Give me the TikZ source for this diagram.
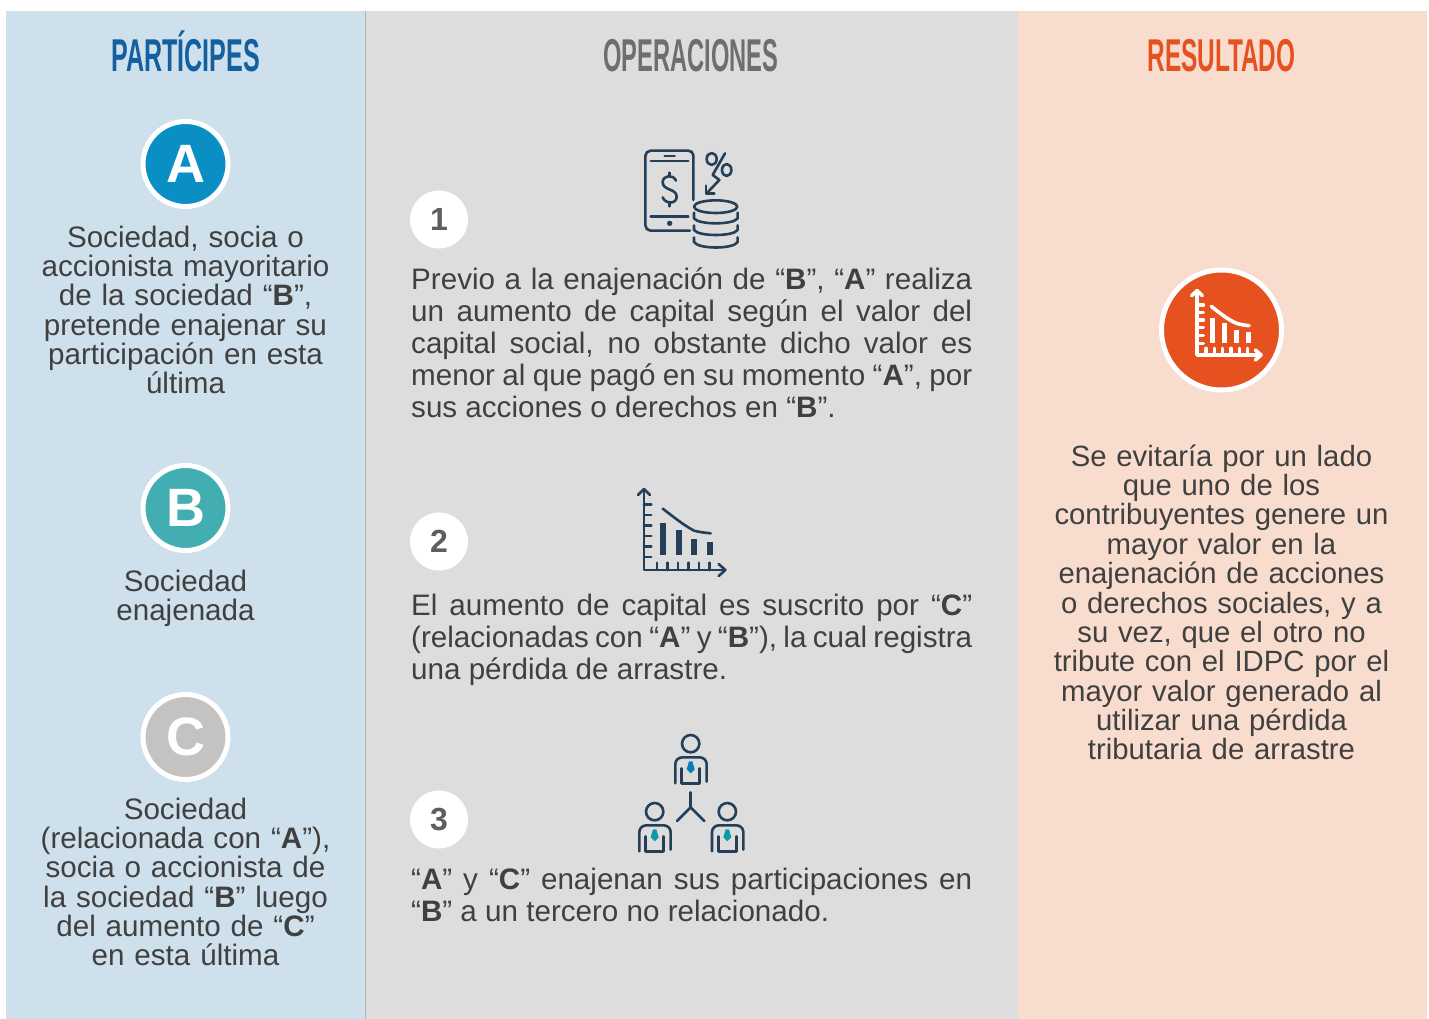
\documentclass[tikz,border=0pt]{standalone}
\usepackage{fontspec}
\setmainfont{Liberation Sans}
\newfontfamily\heada[FakeStretch=0.545]{Liberation Sans}
\newfontfamily\headb[FakeStretch=0.515]{Liberation Sans}
\newfontfamily\headc[FakeStretch=0.53]{Liberation Sans}
\definecolor{bgblue}{HTML}{CDE0EC}
\definecolor{bggrey}{HTML}{DDDDDD}
\definecolor{bgpeach}{HTML}{F8DCCD}
\definecolor{titleblue}{HTML}{135F9F}
\definecolor{titlegrey}{HTML}{6E6E6E}
\definecolor{accent}{HTML}{E5521F}
\definecolor{circA}{HTML}{0A8FC4}
\definecolor{circB}{HTML}{43AEB2}
\definecolor{circC}{HTML}{C4C3C1}
\definecolor{txt}{HTML}{404040}
\definecolor{icon}{HTML}{243F58}
\definecolor{tieblue}{HTML}{0A7DB8}
\definecolor{tieteal}{HTML}{0B9AA8}
\tikzset{
  headtext/.style={anchor=base,inner sep=0pt},
  sidetext/.style={font=\fontsize{29.6}{29.35}\selectfont,text=txt,align=center,inner sep=0pt,anchor=north,text width=345pt},
  midtext/.style={font=\fontsize{29.6}{32}\selectfont,text=txt,align=justify,inner sep=0pt,anchor=north west,text width=561pt},
  letterdisc/.style={circle,draw=white,line width=5pt,minimum size=85pt,inner sep=0pt,text=white,font=\bfseries\fontsize{54}{54}\selectfont},
  numdisc/.style={circle,fill=white,minimum size=58pt,inner sep=0pt,text=titlegrey!85!black,font=\bfseries\fontsize{32}{32}\selectfont},
  iconline/.style={draw=icon,line width=2.6pt,line cap=round,line join=round},
  whiteline/.style={draw=white,line width=3.6pt,line cap=round,line join=round},
}
\begin{document}
\begin{tikzpicture}[x=1pt,y=-1pt]
\useasboundingbox (0,0) rectangle (1429,1019);
\fill[white] (0,0) rectangle (1429,1019);
\fill[bgblue] (6,11) rectangle (365,1019);
\fill[bggrey] (365,11) rectangle (1018,1019);
\fill[bgpeach] (1018,11) rectangle (1427,1019);
\draw[line width=0.8pt,color=black!30] (365.5,11) -- (365.5,1019);

\node[headtext,text=titleblue,font=\heada\bfseries\fontsize{46}{48}\selectfont] (h1) at (185.5,71.5) {PARTÍCIPES};
\node[headtext,text=titlegrey,font=\headb\bfseries\fontsize{46}{48}\selectfont] (h2) at (691,71.5) {OPERACIONES};
\node[headtext,text=accent,font=\headc\bfseries\fontsize{46}{48}\selectfont] (h3) at (1221.5,71.5) {RESULTADO};

% left column
\node[letterdisc,fill=circA] (a) at (185.5,164) {A};
\node[sidetext] (ta) at (185.5,225.5) {Sociedad, socia o\\accionista mayoritario\\de la sociedad “\textbf{B}”,\\pretende enajenar su\\participación en esta\\última};
\node[letterdisc,fill=circB] (b) at (185.5,508) {B};
\node[sidetext] (tb) at (185.5,569.5) {Sociedad\\enajenada};
\node[letterdisc,fill=circC] (c) at (185.5,737) {C};
\node[sidetext] (tc) at (185.5,797.5) {Sociedad\\(relacionada con “\textbf{A}”),\\socia o accionista de\\la sociedad “\textbf{B}” luego\\del aumento de “\textbf{C}”\\en esta última};

% middle column
\node[numdisc] (n1) at (439,219.5) {1};
\node[numdisc] (n2) at (439,541.5) {2};
\node[numdisc] (n3) at (439,819.5) {3};
\node[midtext] (t1) at (411,267.5) {Previo a la enajenación de “\textbf{B}”, “\textbf{A}” realiza\linebreak
un aumento de capital según el valor del\linebreak
capital social, no obstante dicho valor es\linebreak
menor al que pagó en su momento “\textbf{A}”, por\linebreak
sus acciones o derechos en “\textbf{B}”.};
\node[midtext] (t2) at (411,593.5) {El aumento de capital es suscrito por “\textbf{C}”\linebreak
{\spaceskip=0.2em plus 0.1em minus 0.05em (relacionadas con “\textbf{A}” y “\textbf{B}”), la cual registra}\linebreak
una pérdida de arrastre.};
\node[midtext] (t3) at (411,867.5) {“\textbf{A}” y “\textbf{C}” enajenan sus participaciones en\linebreak
“\textbf{B}” a un tercero no relacionado.};

% icon 1
\begin{scope}[shift={(620,140)},x=0.33333pt,y=-0.33333pt]
\draw[iconline] (220,180) -- (220,46) to[out=90,in=0] (205,32) -- (92,32) to[out=180,in=90] (76,48) -- (76,256) to[out=-90,in=180] (92,272) -- (210,272);
\draw[iconline] (92,63) -- (205,63);
\draw[iconline] (134,48) -- (164,48);
\draw[iconline] (92,229) -- (205,229);
\fill[icon] (149,250) circle[radius=8];
\draw[iconline] (168,122) .. controls (160,102) and (128,105) .. (128,127) .. controls (128,152) and (170,145) .. (170,170) .. controls (170,193) and (136,193) .. (128,172);
\draw[iconline] (149,98) -- (149,106);
\draw[iconline] (149,190) -- (149,199);
\draw[iconline] (275,57) ellipse[x radius=15,y radius=18];
\draw[iconline] (320,90) ellipse[x radius=14,y radius=18];
\draw[iconline] (315,40) -- (278,105) -- (298,120) -- (260,160);
\draw[iconline] (258,137) -- (258,160) -- (283,160);
\draw[iconline] (287,200) ellipse[x radius=65,y radius=19];
\draw[iconline] (222,218) -- (222,235) .. controls (235,255) and (340,255) .. (353,235) -- (353,218);
\draw[iconline] (222,256) -- (222,270) .. controls (235,290) and (340,290) .. (353,270) -- (353,256);
\draw[iconline] (222,292) -- (222,306) .. controls (235,328) and (340,328) .. (353,306) -- (353,292);
\end{scope}

% icon 2
\begin{scope}[shift={(620,480)},x=0.33333pt,y=-0.33333pt]
\draw[iconline] (72,27) -- (72,270) -- (314,270);
\draw[iconline] (54,45) -- (72,27) -- (90,45);
\draw[iconline] (296,252) -- (316,270) -- (296,288);
\foreach \yy in {73,105,136,168,200,231} \draw[iconline] (72,\yy) -- (94,\yy);
\foreach \xx in {111,143,174,206,237,268} \draw[iconline] (\xx,248) -- (\xx,270);
\fill[icon] (120,129) rectangle (138,224);
\fill[icon] (168,150) rectangle (186,224);
\fill[icon] (213,177) rectangle (231,224);
\fill[icon] (261,186) rectangle (279,224);
\draw[iconline] (128,86) .. controls (160,110) and (190,135) .. (222,152) .. controls (235,156) and (255,158) .. (272,160);
\end{scope}

% icon 3
\begin{scope}[shift={(625,730)},x=0.33333pt,y=-0.33333pt]
\foreach \dx/\dy/\tiecol in {0/0/tieblue,-108/204/tieteal,110/204/tieteal}{
  \begin{scope}[shift={(\dx,\dy)}]
  \draw[iconline] (197,41) circle[radius=26];
  \draw[iconline] (151,160) -- (151,102) to[out=90,in=180] (172,82) -- (224,82) to[out=0,in=90] (245,102) -- (245,155);
  \draw[iconline] (170,115) -- (170,160) -- (224,160) -- (224,115);
  \fill[\tiecol] (192,94) -- (202,94) -- (209,118) -- (197,130) -- (185,118) -- cycle;
  \end{scope}
}
\draw[iconline] (197,187) -- (197,232);
\draw[iconline] (156,273) -- (197,232) -- (238,273);
\end{scope}

% right column
\node[circle,fill=accent,draw=white,line width=5pt,minimum size=120pt,inner sep=0pt] (r) at (1221.5,330) {};
\begin{scope}[shift={(1150,260)},x=0.33333pt,y=-0.33333pt]
\draw[whiteline] (141,92) -- (141,285) -- (330,285);
\draw[whiteline] (125,107) -- (141,92) -- (157,107);
\draw[whiteline] (316,270) -- (333,285) -- (316,300);
\foreach \yy in {135,157,180,203,226,250} \draw[whiteline] (141,\yy) -- (160,\yy);
\foreach \xx in {168,193,218,243,268,293} \draw[whiteline] (\xx,265) -- (\xx,285);
\fill[white] (179,174) rectangle (195,248);
\fill[white] (216,189) rectangle (232,248);
\fill[white] (252,209) rectangle (267,248);
\fill[white] (288,216) rectangle (303,248);
\draw[whiteline] (184,139) .. controls (210,160) and (235,180) .. (260,190) .. controls (272,194) and (285,196) .. (297,197);
\end{scope}
\node[sidetext,text width=400pt,font=\fontsize{29.3}{29.35}\selectfont] (tr) at (1221.5,444.5) {Se evitaría por un lado\\que uno de los\\contribuyentes genere un\\mayor valor en la\\enajenación de acciones\\o derechos sociales, y a\\su vez, que el otro no\\tribute con el IDPC por el\\mayor valor generado al\\utilizar una pérdida\\tributaria de arrastre};
\end{tikzpicture}
\end{document}
